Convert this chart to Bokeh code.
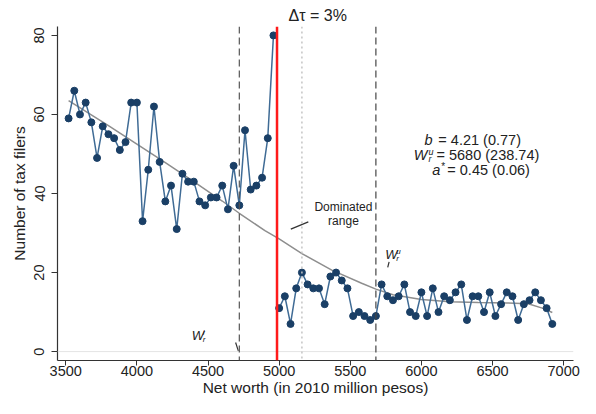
from bokeh.plotting import figure
from bokeh.models import Span, Label, Title, Range1d, FixedTicker
from bokeh.embed import file_html
from bokeh.resources import INLINE

# ---------------- data ----------------
left_x = [3520, 3560, 3600, 3640, 3680, 3720, 3760, 3800, 3840, 3880, 3920, 3960,
          4000, 4040, 4080, 4120, 4160, 4200, 4240, 4280, 4320, 4360, 4400, 4440,
          4480, 4520, 4560, 4600, 4640, 4680, 4720, 4760, 4800, 4840, 4880, 4920, 4960]
left_y = [59, 66, 60, 63, 58, 49, 57, 55, 54, 51, 53, 63,
          63, 33, 46, 62, 48, 38, 42, 31, 45, 43, 43, 38,
          37, 39, 39, 42, 36, 47, 37, 56, 41, 42, 44, 54, 80]

right_x = [5000, 5040, 5080, 5120, 5160, 5200, 5240, 5280, 5320, 5360, 5400, 5440,
           5480, 5520, 5560, 5600, 5640, 5680, 5720, 5760, 5800, 5840, 5880, 5920,
           5960, 6000, 6040, 6080, 6120, 6160, 6200, 6240, 6280, 6320, 6360, 6400,
           6440, 6480, 6520, 6560, 6600, 6640, 6680, 6720, 6760, 6800, 6840, 6880, 6920]
right_y = [11, 14, 7, 16, 20, 17, 16, 16, 12, 19, 20, 18,
           16, 9, 10, 9, 8, 9, 17, 14, 13, 14, 17, 10,
           9, 15, 9, 16, 10, 14, 13, 15, 17, 8, 14, 14,
           10, 15, 9, 12, 15, 14, 8, 12, 13, 15, 13, 11, 7]

# counterfactual fit
fit_x = [3520, 3800, 4000, 4200, 4400, 4600, 4720, 4900, 5000, 5160, 5370, 5580,
         5680, 5800, 6000, 6200, 6400, 6600, 6750, 6850, 6920]
fit_y = [63.5, 57.2, 52.5, 47.8, 43.0, 38.1, 35.0, 30.6, 28.5, 24.8, 20.6, 17.3,
         15.8, 14.4, 13.2, 12.6, 12.4, 12.3, 12.1, 11.0, 9.9]

threshold = 4985
w_lower = 4720
w_dominated = 5160
w_upper = 5680

x_ticks = [3500, 4000, 4500, 5000, 5500, 6000, 6500, 7000]
y_ticks = [0, 20, 40, 60, 80]

title_text = "Δτ = 3%"
x_label = "Net worth (in 2010 million pesos)"
y_label = "Number of tax filers"
stat_b = "=  4.21 (0.77)"
stat_w = "= 5680 (238.74)"
stat_a = "= 0.45 (0.06)"

FONT = "Liberation Sans"
TXT = "#222222"
NAVY = "#1a3f66"
LINE = "#3f6b95"

p = figure(width=580, height=398, output_backend="svg", toolbar_location=None,
           x_range=Range1d(3442, 7069), y_range=Range1d(-2.25, 82.25),
           min_border_left=57, min_border_right=7, min_border_top=26,
           min_border_bottom=38)
p.outline_line_color = None
p.xgrid.visible = False
p.ygrid.visible = False
p.background_fill_color = "white"
p.border_fill_color = "white"

for ax in (p.xaxis[0], p.yaxis[0]):
    ax.axis_line_color = "#333333"
    ax.axis_line_width = 1.2
    ax.major_tick_line_color = "#333333"
    ax.major_tick_in = 0
    ax.minor_tick_line_color = None
    ax.major_label_text_font = FONT
    ax.major_label_text_font_size = "14.5px"
    ax.major_label_text_color = TXT
    ax.axis_label_text_font = FONT
    ax.axis_label_text_font_size = "15.5px"
    ax.axis_label_text_font_style = "normal"
    ax.axis_label_text_color = TXT

p.xaxis.ticker = FixedTicker(ticks=x_ticks)
p.yaxis.ticker = FixedTicker(ticks=y_ticks)
p.yaxis.major_label_orientation = "vertical"
p.xaxis.axis_label = x_label
p.yaxis.axis_label = y_label
p.xaxis.major_tick_out = 5
p.xaxis.major_label_standoff = 0
p.xaxis.axis_label_standoff = 0
p.yaxis.major_tick_out = 6
p.yaxis.major_label_standoff = 7
p.yaxis.axis_label_standoff = 4

# faint zero line
p.add_layout(Span(location=0, dimension="width", line_color="#e4e4e4", line_width=1))

# vertical reference lines
p.add_layout(Span(location=w_lower, dimension="height", line_color="#555555",
                  line_width=1.2, line_dash="7 4"))
p.add_layout(Span(location=w_upper, dimension="height", line_color="#444444",
                  line_width=1.2, line_dash="7 4"))
p.add_layout(Span(location=w_dominated, dimension="height", line_color="#c4c4c4",
                  line_width=1.5, line_dash="2 3"))

# fit curve
p.line(fit_x, fit_y, line_color="#8e8e8e", line_width=1.5)

# threshold
p.add_layout(Span(location=threshold, dimension="height", line_color="#ff1a1a",
                  line_width=2.5))

# data
p.line(left_x, left_y, line_color=LINE, line_width=1.5)
p.line(right_x, right_y, line_color=LINE, line_width=1.5)
p.scatter(left_x, left_y, size=7, fill_color=NAVY, line_color=NAVY)
p.scatter(right_x, right_y, size=7, fill_color=NAVY, line_color=NAVY)

# small pointer strokes
p.line([4694, 4713], [2.3, 0.2], line_color="#333333", line_width=1.2)
p.line([5763, 5773], [21.3, 22.7], line_color="#333333", line_width=1.2)
p.line([5082, 5205], [31.0, 32.8], line_color="#333333", line_width=1.3)

def lab(x, y, text, size="14.5px", style="normal", align="left", baseline="middle",
        xo=0, yo=0):
    p.add_layout(Label(x=x, y=y, text=text, text_font=FONT, text_font_size=size,
                       text_font_style=style, text_align=align,
                       text_baseline=baseline, text_color=TXT,
                       x_offset=xo, y_offset=yo))

# Dominated range
lab(5452, 36.5, "Dominated", size="12px", align="center")
lab(5452, 33.0, "range", size="12px", align="center")

# W_r^l label
lab(4385, 4.1, "W", size="13px", style="italic")
lab(4385, 4.1, "r", size="8px", style="italic", xo=11, yo=-4)
lab(4385, 4.1, "l", size="8px", style="italic", xo=11, yo=3)

# W_r^u label
lab(5745, 24.5, "W", size="13px", style="italic")
lab(5745, 24.5, "r", size="8px", style="italic", xo=11, yo=-4)
lab(5745, 24.5, "u", size="8px", style="italic", xo=11, yo=3)

# stats block
lab(6078, 53.5, "b", style="italic", align="right")
lab(6119, 53.5, stat_b)
lab(6043, 49.75, "W", style="italic", align="right")
lab(6043, 49.75, "r", size="9px", style="italic", xo=1, yo=-4)
lab(6043, 49.75, "u", size="9px", style="italic", xo=1, yo=3)
lab(6106, 49.75, stat_w)
lab(6133, 46.0, "a", style="italic", align="right")
lab(6133, 46.0, "*", size="10px", xo=1, yo=3)
lab(6182, 46.0, stat_a)

p.add_layout(Title(text=title_text, align="left", offset=231, text_font=FONT,
                   text_font_size="16px", text_font_style="normal",
                   text_color=TXT, standoff=5), "above")

open("out.html", "w").write(file_html(p, INLINE))
